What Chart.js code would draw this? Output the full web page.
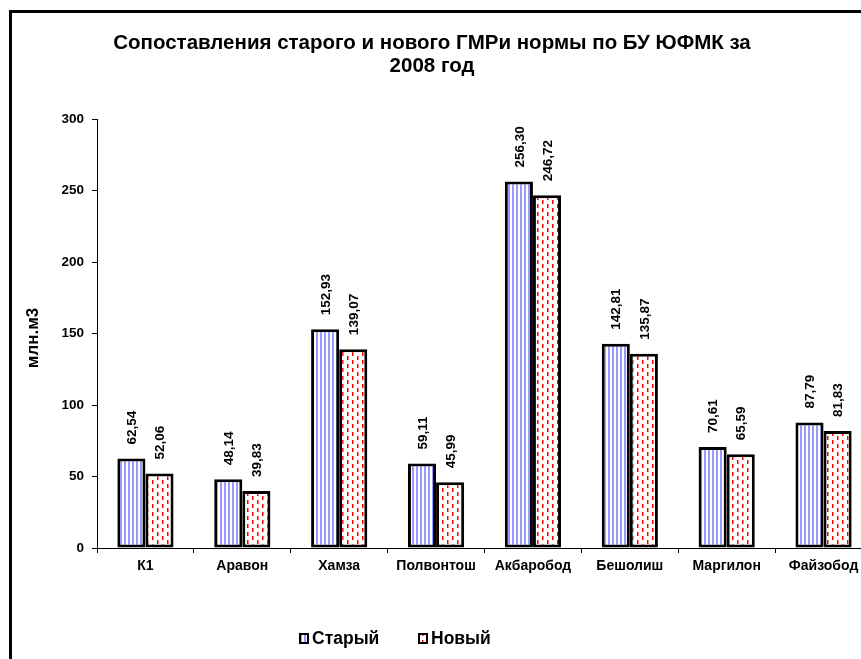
<!DOCTYPE html>
<html>
<head>
<meta charset="utf-8">
<script src="https://cdn.jsdelivr.net/npm/chart.js@4.4.1/dist/chart.umd.min.js"></script>
<style>
  html, body { margin: 0; padding: 0; width: 861px; height: 659px; overflow: hidden; background: #fff; }
  #wrap { position: absolute; left: 0; top: 0; width: 872px; height: 659px; }
  #frame { position: absolute; left: 9px; top: 10px; width: 900px; height: 700px; border: 3px solid #000; box-sizing: border-box; pointer-events: none; }
</style>
</head>
<body>
<div id="wrap"><canvas id="c" width="872" height="659"></canvas></div>
<div id="frame"></div>
<script>
const categories = ['К1', 'Аравон', 'Хамза', 'Полвонтош', 'Акбаробод', 'Бешолиш', 'Маргилон', 'Файзобод'];
const oldValues = [62.54, 48.14, 152.93, 59.11, 256.30, 142.81, 70.61, 87.79];
const newValues = [52.06, 39.83, 139.07, 45.99, 246.72, 135.87, 65.59, 81.83];
const seriesNames = ['Старый', 'Новый'];
const titleLines = ['Сопоставления старого и нового ГМРи нормы по БУ ЮФМК за', '2008 год'];
const yAxisTitle = 'млн.м3';
const yTicks = [0, 50, 100, 150, 200, 250, 300];

const FONT = '"Liberation Sans", Arial, sans-serif';

function makeBluePattern() {
  const c = document.createElement('canvas');
  c.width = 4; c.height = 4;
  const g = c.getContext('2d');
  g.fillStyle = '#fff'; g.fillRect(0, 0, 4, 4);
  g.fillStyle = '#9999ff'; g.fillRect(0, 0, 2, 4);
  return g.createPattern(c, 'repeat');
}
function makeRedPattern() {
  const c = document.createElement('canvas');
  c.width = 10; c.height = 8;
  const g = c.getContext('2d');
  g.fillStyle = '#fff'; g.fillRect(0, 0, 10, 8);
  g.fillStyle = '#ff0000';
  g.fillRect(2, 0, 1.5, 4);
  g.fillRect(7, 4, 1.5, 4);
  return g.createPattern(c, 'repeat');
}
const bluePat = makeBluePattern();
const redPat = makeRedPattern();

function fmt(v) { return v.toFixed(2).replace('.', ','); }

const customDraw = {
  id: 'customDraw',
  afterDraw(chart) {
    const ctx = chart.ctx;
    ctx.save();
    // Title
    ctx.fillStyle = '#000';
    ctx.font = 'bold 20.5px ' + FONT;
    ctx.textAlign = 'center';
    ctx.textBaseline = 'middle';
    ctx.fillText(titleLines[0], 432, 43);
    ctx.fillText(titleLines[1], 432, 66);
    // Y axis title
    ctx.save();
    ctx.translate(33, 338);
    ctx.rotate(-Math.PI / 2);
    ctx.font = 'bold 17px ' + FONT;
    ctx.fillText(yAxisTitle, 0, 0);
    ctx.restore();
    // Data labels
    ctx.font = 'bold 13.5px ' + FONT;
    [oldValues, newValues].forEach((vals, di) => {
      const meta = chart.getDatasetMeta(di);
      meta.data.forEach((el, i) => {
        ctx.save();
        ctx.translate(el.x + 1, el.y - 14);
        ctx.rotate(-Math.PI / 2);
        ctx.textAlign = 'left';
        ctx.textBaseline = 'middle';
        ctx.fillText(fmt(vals[i]), 0, 0);
        ctx.restore();
      });
    });
    // Legend
    const items = [{ x: 300, pat: bluePat, text: seriesNames[0] }, { x: 419, pat: redPat, text: seriesNames[1] }];
    ctx.font = 'bold 17.5px ' + FONT;
    ctx.textAlign = 'left';
    ctx.textBaseline = 'middle';
    items.forEach(it => {
      ctx.fillStyle = it.pat;
      ctx.fillRect(it.x, 634, 8, 9);
      ctx.strokeStyle = '#000';
      ctx.lineWidth = 2;
      ctx.strokeRect(it.x, 634, 8, 9);
      ctx.fillStyle = '#000';
      ctx.fillText(it.text, it.x + 12, 639);
    });
    ctx.restore();
  }
};

new Chart(document.getElementById('c'), {
  type: 'bar',
  data: {
    labels: categories,
    datasets: [
      { label: seriesNames[0], data: oldValues, backgroundColor: bluePat, borderColor: '#000', borderWidth: 3, borderSkipped: false },
      { label: seriesNames[1], data: newValues, backgroundColor: redPat, borderColor: '#000', borderWidth: 3, borderSkipped: false }
    ]
  },
  options: {
    responsive: false,
    animation: false,
    events: [],
    layout: { padding: { top: 119, bottom: 81, left: 0, right: 0 } },
    datasets: { bar: { categoryPercentage: 0.58, barPercentage: 1.0 } },
    plugins: { legend: { display: false }, title: { display: false }, tooltip: { enabled: false } },
    scales: {
      x: {
        grid: { display: true, drawOnChartArea: false, drawTicks: true, tickLength: 5, color: '#000', offset: true },
        border: { color: '#000', width: 1 },
        ticks: { color: '#000', font: { family: FONT, size: 14, weight: 'bold' }, padding: 5, maxRotation: 0, autoSkip: false },
        afterFit(s) { s.height = 30; }
      },
      y: {
        min: 0, max: 300,
        afterBuildTicks(s) { s.ticks = yTicks.map(v => ({ value: v })); },
        grid: { display: true, drawOnChartArea: false, drawTicks: true, tickLength: 5, color: '#000' },
        border: { color: '#000', width: 1 },
        ticks: { color: '#000', font: { family: FONT, size: 13.5, weight: 'bold' }, padding: 8 },
        afterFit(s) { s.width = 97; }
      }
    }
  },
  plugins: [customDraw]
});
</script>
</body>
</html>
